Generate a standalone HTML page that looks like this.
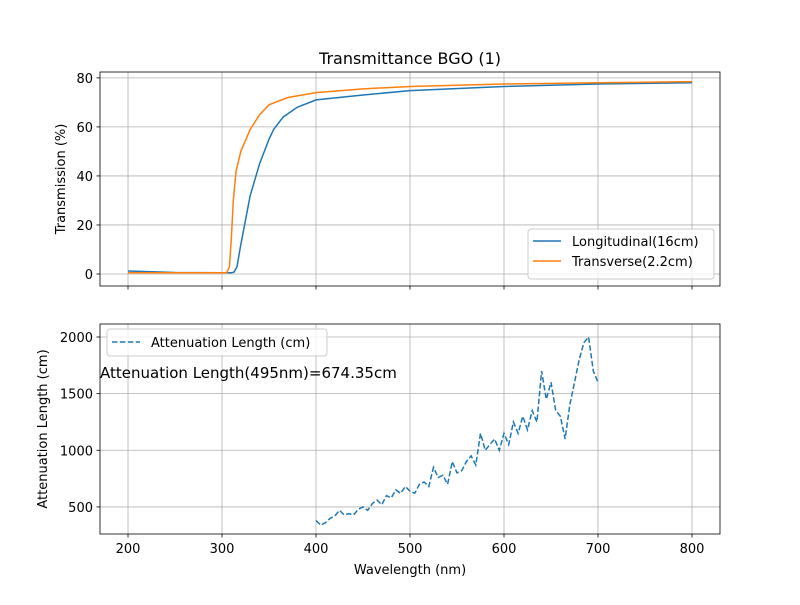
<!DOCTYPE html>
<html><head><meta charset="utf-8"><style>
body{margin:0;background:#fff}
svg{font-family:"DejaVu Sans","Liberation Sans",sans-serif}
</style></head><body>
<svg id="c" width="800" height="600" xmlns="http://www.w3.org/2000/svg"></svg>
<script>
const wlL=[200,250,300,310,313,316,320,325,330,340,350,355,365,380,400,450,500,600,700,800];
const tL=[1.2,0.6,0.5,0.5,0.8,3,12,22,32,45,55,59,64,68,71,73,74.8,76.5,77.5,78];
const wlT=[200,250,300,305,308,310,312,315,320,330,340,350,370,400,450,500,600,700,800];
const tT=[0.5,0.5,0.5,0.5,3,15,30,42,50,59,65,69,72,74,75.5,76.5,77.5,78,78.5];
const wlA=[400,405,410,415,420,425,430,435,440,445,450,455,460,465,470,475,480,485,490,495,500,505,510,515,520,525,530,535,540,545,550,555,560,565,570,575,580,585,590,595,600,605,610,615,620,625,630,635,640,645,650,655,660,665,670,675,680,685,690,695,700];
const att=[380,340,360,400,420,470,430,440,430,480,500,470,530,560,520,600,580,650,620,680,640,620,700,720,680,850,760,780,700,900,800,820,900,950,870,1150,1000,1050,1100,1000,1150,1050,1250,1150,1300,1180,1350,1250,1700,1450,1600,1350,1300,1100,1400,1600,1800,1950,2000,1700,1600];
const xTicks=[200,300,400,500,600,700,800];
const yTopTicks=[0,20,40,60,80];
const yBotTicks=[500,1000,1500,2000];
const NS="http://www.w3.org/2000/svg";
const svg=document.getElementById('c');
function el(t,a,p){const e=document.createElementNS(NS,t);for(const k in a)e.setAttribute(k,a[k]);(p||svg).appendChild(e);return e;}
const X0=100,X1=720;
const sx=v=>X0+(v-170.2)/(829.8-170.2)*(X1-X0);
const topY=v=>286-(v+4.9)/(82.4+4.9)*(286-72);
const botY=v=>534-(v-261)/(2114.7-261)*(534-324);
function axes(y0,y1,sy,yt,name,ylabel,showX,labX){
  const g=el('g',{});
  
  
  xTicks.forEach(t=>{el('line',{x1:sx(t),x2:sx(t),y1:y0,y2:y1,stroke:'#b0b0b0','stroke-width':0.8},g);
    el('line',{x1:sx(t),x2:sx(t),y1:y1,y2:y1+3.5,stroke:'#000','stroke-width':0.8},g);
    if(showX){const tx=el('text',{x:sx(t),y:y1+19,'font-size':13,'text-anchor':'middle'},g);tx.textContent=t;
      }});
  yt.forEach(t=>{el('line',{x1:X0,x2:X1,y1:sy(t),y2:sy(t),stroke:'#b0b0b0','stroke-width':0.8},g);
    el('line',{x1:X0-3.5,x2:X0,y1:sy(t),y2:sy(t),stroke:'#000','stroke-width':0.8},g);
    const tx=el('text',{x:X0-7,y:sy(t)+5,'font-size':13,'text-anchor':'end'},g);tx.textContent=t;
    });
  const yl=el('text',{x:0,y:0,'font-size':13,'text-anchor':'middle',transform:`translate(${labX},${(y0+y1)/2}) rotate(-90)`},g);
  yl.textContent=ylabel;
  
  return g;
}
function frame(y0,y1){el('rect',{x:X0,y:y0,width:X1-X0,height:y1-y0,fill:'none',stroke:'#000','stroke-width':0.8});}
function line(xs,ys,sy,color,name,dash){
  const p=el('path',{d:xs.map((x,i)=>(i?'L':'M')+sx(x).toFixed(1)+','+sy(ys[i]).toFixed(1)).join(''),fill:'none',stroke:color,'stroke-width':1.5});
  if(dash)p.setAttribute('stroke-dasharray',dash);
  
}
axes(72,286,topY,yTopTicks,'top-axes','Transmission (%)',false,65);
line(wlL,tL,topY,'#1f77b4','longitudinal-line');
line(wlT,tT,topY,'#ff7f0e','transverse-line');
frame(72,286);
const tt=el('text',{x:410,y:64,'font-size':16,'text-anchor':'middle'});tt.textContent='Transmittance BGO (1)';

const lg=el('g',{});
el('rect',{x:528,y:229,width:186,height:50,rx:3,fill:'#fff','fill-opacity':0.8,stroke:'#ccc'},lg);
[['Longitudinal(16cm)','#1f77b4',246],['Transverse(2.2cm)','#ff7f0e',266]].forEach(([t,c,y])=>{
  el('line',{x1:533,x2:561,y1:y-5,y2:y-5,stroke:c,'stroke-width':1.5},lg);
  const tx=el('text',{x:572,y:y,'font-size':13},lg);tx.textContent=t;
  });
axes(324,534,botY,yBotTicks,'bottom-axes','Attenuation Length (cm)',true,47);
line(wlA,att,botY,'#1f77b4','attenuation-line','5.5,2.4');
frame(324,534);
const xl=el('text',{x:410,y:574,'font-size':13,'text-anchor':'middle'});xl.textContent='Wavelength (nm)';

const bl=el('g',{});
el('rect',{x:107,y:329,width:220,height:27,rx:3,fill:'#fff','fill-opacity':0.8,stroke:'#ccc'},bl);
el('line',{x1:112,x2:140,y1:342,y2:342,stroke:'#1f77b4','stroke-width':1.5,'stroke-dasharray':'5.5,2.4'},bl);
const bt=el('text',{x:151,y:347,'font-size':13},bl);bt.textContent='Attenuation Length (cm)';

const an=el('text',{x:100,y:378,'font-size':15});an.textContent='Attenuation Length(495nm)=674.35cm';

</script>
</body></html>
